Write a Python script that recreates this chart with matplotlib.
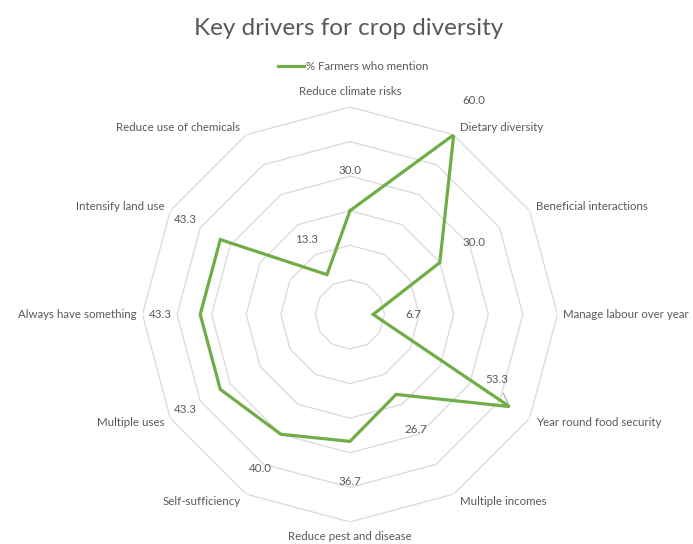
import matplotlib.pyplot as plt
import numpy as np

# Key drivers for crop diversity - radar chart
categories = ["Reduce climate risks", "Dietary diversity", "Beneficial interactions",
              "Manage labour over year", "Year round food security", "Multiple incomes",
              "Reduce pest and disease", "Self-sufficiency", "Multiple uses",
              "Always have something", "Intensify land use", "Reduce use of chemicals"]
values = [30.0, 60.0, 30.0, 6.7, 53.3, 26.7, 36.7, 40.0, 43.3, 43.3, 43.3, 13.3]
rings = [10, 20, 30, 40, 50, 60]
series_name = "% Farmers who mention"

text_col = "#595959"
green = "#70ad47"
plt.rcParams['font.family'] = ['Lato', 'DejaVu Sans']

fig = plt.figure(figsize=(6.93, 5.44), dpi=100)
ax = fig.add_axes([0.2056, 0.0405, 0.5988, 0.7629], projection="polar")
ax.set_theta_offset(np.pi / 2)
ax.set_theta_direction(-1)
ax.set_ylim(0, 60)
ax.grid(False)
ax.set_xticks([])
ax.set_yticks([])
ax.spines["polar"].set_visible(False)
ax.patch.set_visible(False)

n = len(categories)
theta = np.arange(n) * 2 * np.pi / n
theta_c = np.append(theta, theta[0])

# dodecagon gridlines
for r in rings:
    ax.plot(theta_c, [r] * (n + 1), color="#d9d9d9", lw=0.9, zorder=1)

vals_c = values + [values[0]]
line, = ax.plot(theta_c, vals_c, color=green, lw=2.3, zorder=3,
                solid_joinstyle="miter", label=series_name)

px = 0.72  # points per pixel at 100 dpi

# value labels, pushed outward from each point
for i, (t, v) in enumerate(zip(theta, values)):
    if categories[i] == "Year round food security":
        ax.annotate(f"{v:.1f}", xy=(t, v), xytext=(-13 * px, 27 * px),
                    textcoords="offset points", ha="center", va="center",
                    fontsize=8.3, color=text_col, annotation_clip=False,
                    arrowprops=dict(arrowstyle="-", color="#a6a6a6", lw=0.8,
                                    shrinkA=4, shrinkB=2))
        continue
    dx = np.sin(t) * 40 * px
    dy = np.cos(t) * 40 * px
    ax.annotate(f"{v:.1f}", xy=(t, v), xytext=(dx, dy), textcoords="offset points",
                ha="center", va="center", fontsize=8.3, color=text_col,
                annotation_clip=False)

# category labels around the outer ring
for t, name in zip(theta, categories):
    s, c = np.sin(t), np.cos(t)
    if abs(s) < 1e-6:
        dx, dy, ha = 0, c * 15 * px, "center"
    else:
        dx = np.sign(s) * 6 * px
        dy = c * 8 * px
        ha = "left" if s > 0 else "right"
    ax.annotate(name, xy=(t, 60), xytext=(dx, dy), textcoords="offset points",
                ha=ha, va="center", fontsize=8.3, color=text_col,
                annotation_clip=False)

fig.text(0.503, 0.948, "Key drivers for crop diversity", ha="center", va="center",
         fontsize=17.5, color=text_col)
fig.legend(handles=[line], loc="center", bbox_to_anchor=(0.51, 0.877), frameon=False,
           fontsize=8.3, labelcolor=text_col, handlelength=2.2, handletextpad=0.2)

fig.savefig("out.png", dpi=100, facecolor="white")
